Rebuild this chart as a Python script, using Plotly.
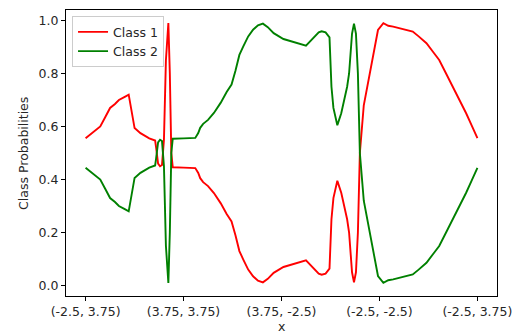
import plotly.graph_objects as go

# position along the square path (0..4, one unit per side)
t = [0.00, 0.08, 0.15, 0.20, 0.25, 0.30, 0.34, 0.40, 0.44, 0.50, 0.56, 0.65, 0.71, 0.72,
     0.74, 0.76, 0.78, 0.80, 0.82, 0.845, 0.86, 0.875, 0.89, 1.00, 1.12, 1.15, 1.17, 1.20,
     1.25, 1.31, 1.38, 1.44, 1.49, 1.53, 1.57, 1.61, 1.66, 1.71, 1.76, 1.81, 1.86, 1.92,
     2.02, 2.25, 2.32, 2.38, 2.41, 2.45, 2.49, 2.51, 2.53, 2.57, 2.61, 2.67, 2.69, 2.72,
     2.74, 2.76, 2.78, 2.80, 2.84, 2.92, 2.985, 3.04, 3.09, 3.14, 3.25, 3.34, 3.40, 3.45,
     3.48, 3.55, 3.61, 3.68, 3.75, 3.82, 3.885, 3.94, 4.00]

class1 = [0.556, 0.578, 0.600, 0.635, 0.670, 0.685, 0.700, 0.712, 0.720, 0.594, 0.575, 0.555,
          0.547, 0.520, 0.460, 0.450, 0.455, 0.550, 0.850, 0.990, 0.800, 0.500, 0.446, 0.445,
          0.443, 0.425, 0.405, 0.390, 0.375, 0.349, 0.310, 0.270, 0.242, 0.190, 0.130, 0.098,
          0.060, 0.035, 0.018, 0.012, 0.025, 0.048, 0.070, 0.095, 0.070, 0.045, 0.041, 0.045,
          0.064, 0.250, 0.330, 0.395, 0.350, 0.250, 0.200, 0.050, 0.012, 0.050, 0.200, 0.500,
          0.680, 0.830, 0.964, 0.990, 0.980, 0.977, 0.968, 0.958, 0.940, 0.925, 0.914, 0.880,
          0.851, 0.800, 0.750, 0.700, 0.650, 0.605, 0.556]

class2 = [0.444, 0.422, 0.400, 0.365, 0.330, 0.315, 0.300, 0.288, 0.280, 0.406, 0.425, 0.445,
          0.453, 0.480, 0.540, 0.550, 0.545, 0.450, 0.150, 0.010, 0.200, 0.500, 0.554, 0.555,
          0.557, 0.575, 0.595, 0.610, 0.625, 0.651, 0.690, 0.730, 0.758, 0.810, 0.870, 0.902,
          0.940, 0.965, 0.982, 0.988, 0.975, 0.952, 0.930, 0.905, 0.930, 0.955, 0.959, 0.955,
          0.936, 0.750, 0.670, 0.605, 0.650, 0.750, 0.800, 0.950, 0.988, 0.950, 0.800, 0.500,
          0.320, 0.170, 0.036, 0.010, 0.020, 0.023, 0.032, 0.042, 0.060, 0.075, 0.086, 0.120,
          0.149, 0.200, 0.250, 0.300, 0.350, 0.395, 0.444]

tick_pos = [0, 1, 2, 3, 4]
tick_labels = ["(-2.5, 3.75)", "(3.75, 3.75)", "(3.75, -2.5)", "(-2.5, -2.5)", "(-2.5, 3.75)"]
y_ticks = [0, 0.2, 0.4, 0.6, 0.8, 1.0]
y_tick_labels = ["0.0", "0.2", "0.4", "0.6", "0.8", "1.0"]

fig = go.Figure()
fig.add_trace(go.Scatter(x=t, y=class1, mode="lines", name="Class 1",
                         line=dict(color="red", width=1.9)))
fig.add_trace(go.Scatter(x=t, y=class2, mode="lines", name="Class 2",
                         line=dict(color="green", width=1.9)))

font = dict(family="DejaVu Sans", size=12.5, color="#262626")
axis_common = dict(showgrid=False, zeroline=False, showline=True, linecolor="black",
                   linewidth=1, mirror=True, ticks="outside", ticklen=4, tickwidth=1,
                   tickcolor="black", automargin=False, tickfont=font)

fig.update_layout(
    width=516, height=335,
    margin=dict(l=66, r=19, t=10, b=39),
    paper_bgcolor="white", plot_bgcolor="white",
    font=font,
    showlegend=True,
    legend=dict(x=0.014, y=0.978, xanchor="left", yanchor="top",
                bgcolor="rgba(255,255,255,0.8)", bordercolor="#cccccc", borderwidth=1,
                font=font, itemwidth=30, tracegroupgap=0),
    xaxis=dict(range=[-0.2, 4.2], tickvals=tick_pos, ticktext=tick_labels, **axis_common),
    yaxis=dict(range=[-0.0395, 1.0395], tickvals=y_ticks, ticktext=y_tick_labels, **axis_common),
    annotations=[
        dict(text="x", xref="paper", yref="paper", x=0.5, y=-0.108, showarrow=False,
             xanchor="center", yanchor="middle", font=font),
        dict(text="Class Probabilities", xref="paper", yref="paper", x=-0.100, y=0.5,
             showarrow=False, textangle=-90, xanchor="center", yanchor="middle", font=font),
    ],
)

fig.write_html("out.html")
